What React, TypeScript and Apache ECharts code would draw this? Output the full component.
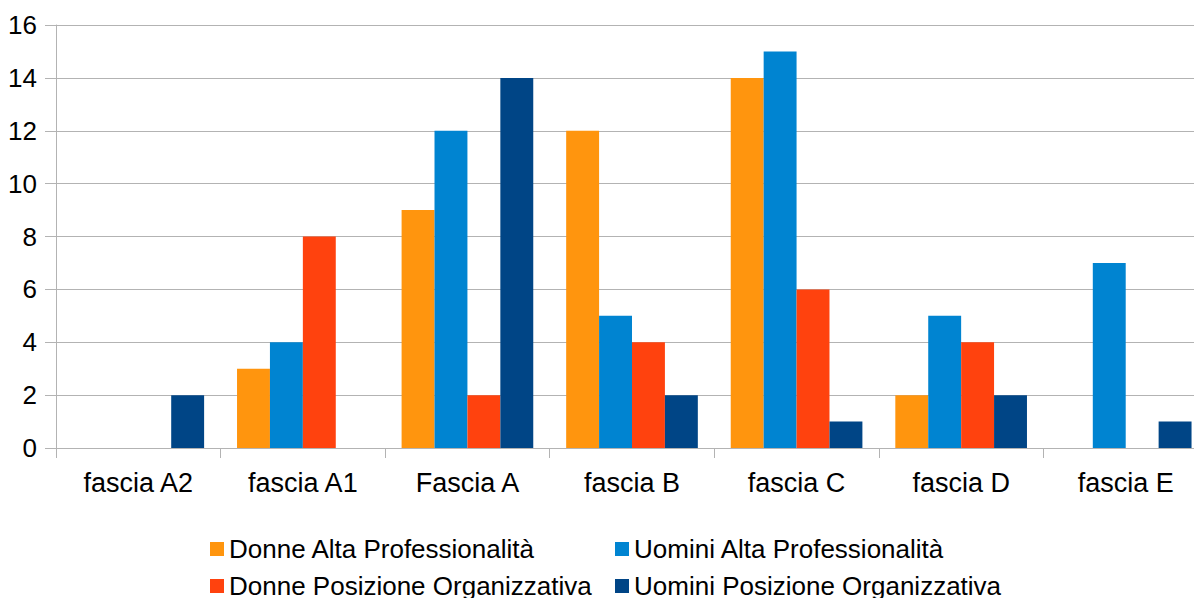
import React, { useEffect, useRef } from "react";
import * as echarts from "echarts";

const categories = ["fascia A2", "fascia A1", "Fascia A", "fascia B", "fascia C", "fascia D", "fascia E"];
const donneAlta = [0, 3, 9, 12, 14, 2, 0];
const uominiAlta = [0, 4, 12, 5, 15, 5, 7];
const donnePos = [0, 8, 2, 4, 6, 4, 0];
const uominiPos = [2, 0, 14, 2, 1, 2, 1];

const seriesNames = [
  "Donne Alta Professionalità",
  "Uomini Alta Professionalità",
  "Donne Posizione Organizzativa",
  "Uomini Posizione Organizzativa",
];
const colors = ["#ff950e", "#0084d1", "#ff420e", "#004586"];

export default function App() {
  const ref = useRef<HTMLDivElement>(null);
  useEffect(() => {
    document.body.style.margin = "0";
    const chart = echarts.init(ref.current!, null, { renderer: "svg" });
    const font = "'Liberation Sans', Arial, sans-serif";
    const dataSets = [donneAlta, uominiAlta, donnePos, uominiPos];
    const legendText = { fontFamily: font, fontSize: 26, color: "#000" };
    const legendBase = {
      orient: "vertical",
      top: 531,
      height: 90,
      itemWidth: 14,
      itemHeight: 14,
      itemGap: 11,
      icon: "rect",
      textStyle: legendText,
      selectedMode: false,
    };
    chart.setOption({
      animation: false,
      color: colors,
      grid: {
        left: 56,
        width: 1152,
        top: 25,
        bottom: 150,
        containLabel: false,
        outerBoundsMode: "none",
      },
      xAxis: {
        type: "category",
        data: categories,
        axisLine: { show: true, lineStyle: { color: "#b3b3b3", width: 1 } },
        axisTick: { show: true, alignWithLabel: false, length: 10, lineStyle: { color: "#b3b3b3" } },
        axisLabel: { fontFamily: font, fontSize: 27, color: "#000", margin: 21, interval: 0 },
        splitLine: { show: false },
      },
      yAxis: {
        type: "value",
        min: 0,
        max: 16,
        interval: 2,
        axisLine: { show: true, lineStyle: { color: "#b3b3b3", width: 1 } },
        axisTick: { show: true, length: 11, lineStyle: { color: "#b3b3b3" } },
        axisLabel: { fontFamily: font, fontSize: 26, color: "#000", margin: 19 },
        splitLine: { show: true, lineStyle: { color: "#b3b3b3", width: 1 } },
      },
      legend: [
        { ...legendBase, left: 205, data: [seriesNames[0], seriesNames[2]] },
        { ...legendBase, left: 610, data: [seriesNames[1], seriesNames[3]] },
      ],
      series: seriesNames.map((name, i) => ({
        name,
        type: "bar",
        data: dataSets[i],
        barGap: "0%",
        barCategoryGap: "20%",
        itemStyle: { color: colors[i] },
      })),
    });
    return () => chart.dispose();
  }, []);
  return (
    <div
      ref={ref}
      style={{ position: "absolute", left: 0, top: 0, width: 1194, height: 598, background: "#fff" }}
    />
  );
}
